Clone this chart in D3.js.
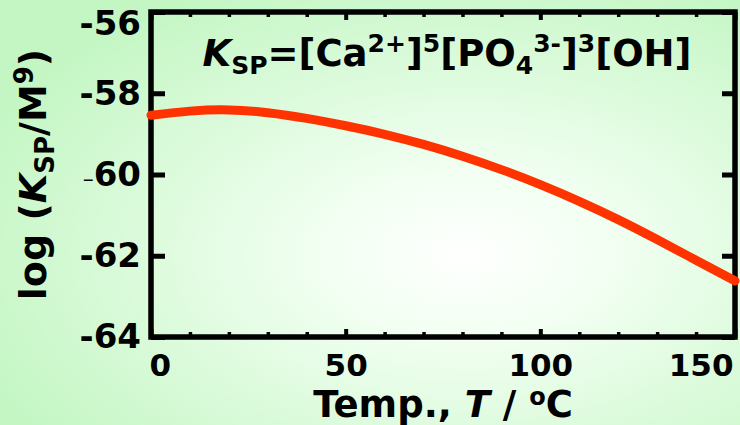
<!DOCTYPE html>
<html>
<head>
<meta charset="utf-8">
<script src="https://cdn.jsdelivr.net/npm/d3@7"></script>
<style>
  html, body { margin: 0; padding: 0; background: #ffffff; }
  svg { display: block; }
  text { font-family: "DejaVu Sans", sans-serif; font-weight: bold; fill: #000; }
</style>
</head>
<body>
<svg id="chart" width="740" height="425"></svg>
<script>
// Solubility product of hydroxyapatite vs temperature
const temps  = [0, 10, 20, 30, 40, 50, 60, 70, 80, 90, 100, 110, 120, 130, 140, 150];
const logKsp = [-58.54, -58.44, -58.41, -58.48, -58.62, -58.80, -59.01, -59.26, -59.55, -59.88, -60.25, -60.66, -61.11, -61.60, -62.11, -62.62];
const xMajorTicks = [0, 50, 100, 150];
const xMinorTicks = [10, 20, 30, 40, 60, 70, 80, 90, 110, 120, 130, 140];
const yTicks = [-64, -62, -60, -58, -56];

const W = 740, H = 425;
const svg = d3.select("#chart");
const plainNum = d => String(d);   // keeps an ASCII hyphen for negatives

// soft green background with a bright centre
const defs = svg.append("defs");
const grad = defs.append("radialGradient").attr("id", "bg")
  .attr("cx", 0.63).attr("cy", 0.6).attr("r", 0.72);
grad.append("stop").attr("offset", "0%").attr("stop-color", "#ffffff");
grad.append("stop").attr("offset", "25%").attr("stop-color", "#f3fff3");
grad.append("stop").attr("offset", "100%").attr("stop-color", "#c3f6c3");
svg.append("rect").attr("width", W).attr("height", H).attr("fill", "url(#bg)");

const x = d3.scaleLinear().domain([0, 150]).range([151, 735]);
const y = d3.scaleLinear().domain([-64, -56]).range([337, 12]);

const plotL = x.range()[0], plotR = x.range()[1];
const plotT = y.range()[1], plotB = y.range()[0];

// left axis: inward ticks with labels
const gLeft = svg.append("g").attr("transform", `translate(${plotL},0)`)
  .call(d3.axisLeft(y).tickValues(yTicks).tickSizeInner(-14).tickSizeOuter(0).tickPadding(10)
        .tickFormat(plainNum));
gLeft.select(".domain").remove();
gLeft.selectAll("line").attr("stroke", "#000").attr("stroke-width", 5);
gLeft.selectAll("text").style("font-size", "34px").attr("fill", "#000");
gLeft.selectAll(".tick").filter(d => d === -56).select("text").attr("dy", "0.65em");
// the -60 label is printed with a thin dash
gLeft.selectAll(".tick").filter(d => d === -60).select("text").each(function (d) {
  const t = d3.select(this).text("");
  t.append("tspan").style("font-weight", "normal").style("font-size", "22px").text("\u2013");
  t.append("tspan").text(String(Math.abs(d)));
});

// right axis: ticks only
const gRight = svg.append("g").attr("transform", `translate(${plotR},0)`)
  .call(d3.axisRight(y).tickValues(yTicks).tickSizeInner(-13).tickSizeOuter(0).tickFormat(""));
gRight.select(".domain").remove();
gRight.selectAll("line").attr("stroke", "#000").attr("stroke-width", 5);

// bottom axis: minor and major ticks
const gBotMinor = svg.append("g").attr("transform", `translate(0,${plotB})`)
  .call(d3.axisBottom(x).tickValues(xMinorTicks).tickSizeInner(-5).tickSizeOuter(0).tickFormat(""));
gBotMinor.select(".domain").remove();
gBotMinor.selectAll("line").attr("stroke", "#000").attr("stroke-width", 3.5);

const gBot = svg.append("g").attr("transform", `translate(0,${plotB})`)
  .call(d3.axisBottom(x).tickValues(xMajorTicks).tickSizeInner(-8).tickSizeOuter(0).tickPadding(17)
        .tickFormat(plainNum));
gBot.select(".domain").remove();
gBot.selectAll("line").attr("stroke", "#000").attr("stroke-width", 4);
gBot.selectAll("text").style("font-size", "31px").attr("fill", "#000");
gBot.selectAll(".tick").filter(d => d === 0).select("text").attr("text-anchor", "start").attr("x", -2);
gBot.selectAll(".tick").filter(d => d === 150).select("text").attr("text-anchor", "end").attr("x", -2);

// top axis: ticks only
const gTopMinor = svg.append("g").attr("transform", `translate(0,${plotT})`)
  .call(d3.axisTop(x).tickValues(xMinorTicks).tickSizeInner(-5).tickSizeOuter(0).tickFormat(""));
gTopMinor.select(".domain").remove();
gTopMinor.selectAll("line").attr("stroke", "#000").attr("stroke-width", 3.5);
const gTop = svg.append("g").attr("transform", `translate(0,${plotT})`)
  .call(d3.axisTop(x).tickValues(xMajorTicks).tickSizeInner(-8).tickSizeOuter(0).tickFormat(""));
gTop.select(".domain").remove();
gTop.selectAll("line").attr("stroke", "#000").attr("stroke-width", 4);

// plot frame
svg.append("rect")
  .attr("x", plotL).attr("y", plotT)
  .attr("width", plotR - plotL).attr("height", plotB - plotT)
  .attr("fill", "none").attr("stroke", "#000").attr("stroke-width", 5.5);

// Ksp curve
const line = d3.line().x((d, i) => x(temps[i])).y(d => y(d)).curve(d3.curveNatural);
svg.append("path")
  .datum(logKsp)
  .attr("d", line)
  .attr("fill", "none")
  .attr("stroke", "#ff3300")
  .attr("stroke-width", 9)
  .attr("stroke-linecap", "round");

// formula annotation
const f = svg.append("text").attr("x", (plotL + plotR) / 2 + 4).attr("y", 66)
  .attr("text-anchor", "middle").style("font-size", "37px");
f.append("tspan").style("font-style", "italic").text("K");
f.append("tspan").attr("dy", 8).style("font-size", "25px").text("SP");
f.append("tspan").attr("dy", -8).text("=[Ca");
f.append("tspan").attr("dy", -14).style("font-size", "25px").text("2+");
f.append("tspan").attr("dy", 14).text("]");
f.append("tspan").attr("dy", -14).style("font-size", "25px").text("5");
f.append("tspan").attr("dy", 14).text("[PO");
f.append("tspan").attr("dy", 8).style("font-size", "25px").text("4");
f.append("tspan").attr("dy", -22).style("font-size", "25px").text("3-");
f.append("tspan").attr("dy", 14).text("]");
f.append("tspan").attr("dy", -14).style("font-size", "25px").text("3");
f.append("tspan").attr("dy", 14).text("[OH]");

// axis titles
const xt = svg.append("text").attr("x", (plotL + plotR) / 2).attr("y", 417)
  .attr("text-anchor", "middle").style("font-size", "37px");
xt.append("tspan").text("Temp., ");
xt.append("tspan").style("font-style", "italic").text("T");
xt.append("tspan").text(" / ");
xt.append("tspan").attr("dy", -12).style("font-size", "24px").text("o");
xt.append("tspan").attr("dy", 12).text("C");

const yt = svg.append("text")
  .attr("transform", `translate(46,${(plotT + plotB) / 2}) rotate(-90)`)
  .attr("text-anchor", "middle").style("font-size", "38px");
yt.append("tspan").text("log (");
yt.append("tspan").style("font-style", "italic").text("K");
yt.append("tspan").attr("dy", 8).style("font-size", "26px").text("SP");
yt.append("tspan").attr("dy", -8).text("/M");
yt.append("tspan").attr("dy", -13).style("font-size", "26px").text("9");
yt.append("tspan").attr("dy", 13).text(")");
</script>
</body>
</html>
